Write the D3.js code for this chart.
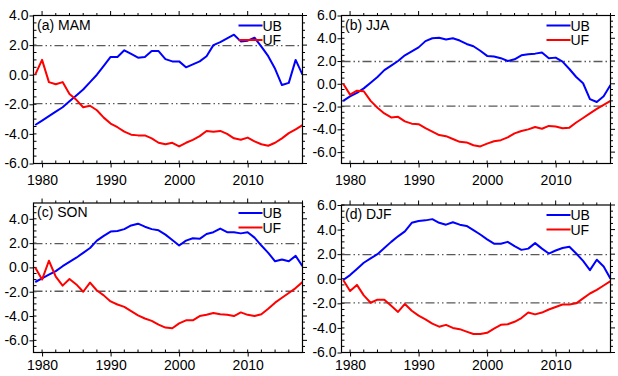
<!DOCTYPE html>
<html>
<head>
<meta charset="utf-8">
<script src="https://cdn.jsdelivr.net/npm/d3@7"></script>
<style>
  body { margin: 0; background: #fff; }
  svg { display: block; font-family: "Liberation Sans", Arial, sans-serif; }
</style>
</head>
<body>
<div id="chart"></div>
<script>
var years = [1979, 1980, 1981, 1982, 1983, 1984, 1985, 1986, 1987, 1988,
             1989, 1990, 1991, 1992, 1993, 1994, 1995, 1996, 1997, 1998,
             1999, 2000, 2001, 2002, 2003, 2004, 2005, 2006, 2007, 2008,
             2009, 2010, 2011, 2012, 2013, 2014, 2015, 2016, 2017, 2018];

var mamUB = [-3.4, -3.1, -2.8, -2.5, -2.2, -1.8, -1.4, -1.0, -0.5, 0.0,
              0.6, 1.2, 1.2, 1.65, 1.4, 1.15, 1.2, 1.6, 1.6, 1.05,
              0.9, 0.9, 0.5, 0.7, 0.9, 1.25, 2.0, 2.2, 2.45, 2.7,
              2.25, 2.3, 2.5, 1.9, 1.25, 0.4, -0.7, -0.55, 1.0, 0.0];
var mamUF = [0.0, 1.0, -0.5, -0.65, -0.5, -1.3, -1.7, -2.2, -2.1, -2.4,
             -2.9, -3.3, -3.55, -3.85, -4.05, -4.1, -4.1, -4.3, -4.6, -4.7,
             -4.6, -4.85, -4.6, -4.4, -4.15, -3.8, -3.85, -3.8, -4.0, -4.3,
             -4.4, -4.25, -4.5, -4.7, -4.8, -4.6, -4.3, -3.95, -3.7, -3.4];

var jjaUB = [-1.5, -1.1, -0.8, -0.4, 0.1, 0.6, 1.2, 1.6, 2.0, 2.5,
              2.85, 3.2, 3.75, 4.0, 4.05, 3.9, 4.0, 3.8, 3.5, 3.3,
              2.9, 2.45, 2.4, 2.25, 2.0, 2.15, 2.5, 2.6, 2.65, 2.75,
              2.25, 2.3, 1.95, 1.3, 0.6, 0.05, -1.35, -1.6, -1.1, -0.1];
var jjaUF = [0.0, -0.95, -0.6, -0.65, -1.5, -2.1, -2.6, -2.95, -2.9, -3.3,
             -3.5, -3.55, -3.9, -4.2, -4.5, -4.6, -4.85, -5.1, -5.15, -5.4,
             -5.5, -5.25, -5.05, -4.95, -4.7, -4.35, -4.15, -4.0, -3.8, -3.95,
             -3.7, -3.75, -3.9, -3.85, -3.4, -3.0, -2.6, -2.2, -1.85, -1.5];

var sonUB = [-1.2, -0.9, -0.6, -0.3, 0.1, 0.45, 0.8, 1.2, 1.6, 2.2,
              2.6, 2.95, 3.0, 3.15, 3.45, 3.6, 3.35, 3.15, 3.05, 2.7,
              2.25, 1.8, 2.2, 2.4, 2.35, 2.75, 2.9, 3.2, 2.9, 2.9,
              2.8, 2.9, 2.45, 1.8, 1.2, 0.5, 0.65, 0.5, 0.95, 0.1];
var sonUF = [0.0, -1.0, 0.55, -0.75, -1.5, -0.95, -1.4, -2.0, -1.25, -1.9,
             -2.3, -2.8, -3.05, -3.25, -3.6, -3.95, -4.2, -4.4, -4.7, -4.95,
             -5.0, -4.6, -4.35, -4.35, -4.0, -3.9, -3.75, -3.85, -3.9, -4.0,
             -3.7, -3.9, -4.0, -3.85, -3.4, -2.9, -2.5, -2.1, -1.7, -1.2];

var djfUB = [-0.1, 0.3, 0.8, 1.3, 1.65, 2.0, 2.5, 3.0, 3.45, 3.85,
              4.55, 4.7, 4.75, 4.85, 4.55, 4.4, 4.6, 4.4, 4.3, 3.95,
              3.6, 3.2, 2.85, 2.85, 3.0, 2.65, 2.35, 2.45, 2.9, 2.45,
              2.05, 2.3, 2.5, 2.6, 2.05, 1.45, 0.7, 1.55, 1.0, 0.0];
var djfUF = [-0.1, -1.0, -0.5, -1.35, -1.95, -1.7, -1.7, -2.2, -2.7, -2.05,
             -2.6, -3.0, -3.3, -3.65, -3.9, -3.75, -4.0, -4.1, -4.3, -4.5,
             -4.5, -4.4, -4.05, -3.75, -3.7, -3.5, -3.2, -2.75, -2.9, -2.75,
             -2.5, -2.3, -2.1, -2.1, -2.0, -1.6, -1.2, -0.9, -0.55, -0.2];

var xTicks = [1980, 1990, 2000, 2010];
var yTicksA = [4, 2, 0, -2, -4, -6];
var yTicksB = [6, 4, 2, 0, -2, -4, -6];
var yTicksC = [4, 2, 0, -2, -4, -6];
var yTicksD = [6, 4, 2, 0, -2, -4, -6];
var seriesNames = ["UB", "UF"];
var seriesColors = ["#0000ff", "#ff0000"];
var threshold = 1.96;

var width = 618, height = 376;

var svg = d3.select("#chart").append("svg")
    .attr("width", width)
    .attr("height", height);

var panels = [
    { label: "(a) MAM", ub: mamUB, uf: mamUF, yDomain: [-6, 4], yTicks: yTicksA,
      left: 33.5, right: 302.5, top: 15.5, bottom: 163.5, xPad: 8 },
    { label: "(b) JJA", ub: jjaUB, uf: jjaUF, yDomain: [-7, 6], yTicks: yTicksB,
      left: 341.5, right: 610.5, top: 15.5, bottom: 163.5, xPad: 8 },
    { label: "(c) SON", ub: sonUB, uf: sonUF, yDomain: [-7, 5.3], yTicks: yTicksC,
      left: 33.5, right: 302.5, top: 203, bottom: 352.5, xPad: 4 },
    { label: "(d) DJF", ub: djfUB, uf: djfUF, yDomain: [-6, 6], yTicks: yTicksD,
      left: 341.5, right: 610.5, top: 205, bottom: 352.5, xPad: 4 }
];

panels.forEach(function(p, pi) {
    var x = d3.scaleLinear().domain([1978.75, 2018]).range([p.left, p.right]);
    var y = d3.scaleLinear().domain(p.yDomain).range([p.bottom, p.top]);

    var g = svg.append("g");

    // clip for the data lines
    g.append("clipPath").attr("id", "clip" + pi)
        .append("rect")
        .attr("x", p.left).attr("y", p.top)
        .attr("width", p.right - p.left).attr("height", p.bottom - p.top);

    // minor ticks
    var minorX = d3.range(1980, 2019, 2);
    var minorY = d3.range(Math.ceil(p.yDomain[0] * 2) / 2, p.yDomain[1] + 0.01, 0.5);

    // bottom axis: major ticks out, minor in
    var bx = d3.axisBottom(x).tickValues(xTicks).tickFormat(d3.format("d"))
        .tickSizeInner(4).tickSizeOuter(0).tickPadding(p.xPad);
    g.append("g").attr("transform", "translate(0," + p.bottom + ")").call(bx)
        .call(function(a) {
            a.select(".domain").remove();
            a.selectAll("text").attr("font-size", 14).attr("fill", "#000")
                .attr("font-family", "Liberation Sans, Arial, sans-serif");
        });
    g.append("g").selectAll("line").data(minorX).enter().append("line")
        .attr("x1", d => x(d)).attr("x2", d => x(d))
        .attr("y1", p.bottom).attr("y2", p.bottom - 3)
        .attr("stroke", "#000").attr("stroke-width", 1);

    // top axis: ticks out
    g.append("g").selectAll("line").data(minorX).enter().append("line")
        .attr("x1", d => x(d)).attr("x2", d => x(d))
        .attr("y1", p.top).attr("y2", d => p.top - (xTicks.indexOf(d) >= 0 ? 4.5 : 2.5))
        .attr("stroke", "#000").attr("stroke-width", 1);

    // left axis
    var ly = d3.axisLeft(y).tickValues(p.yTicks).tickFormat(d3.format(".1f"))
        .tickSizeInner(4).tickSizeOuter(0).tickPadding(1);
    g.append("g").attr("transform", "translate(" + p.left + ",0)").call(ly)
        .call(function(a) {
            a.select(".domain").remove();
            a.selectAll("text").attr("font-size", 14).attr("fill", "#000")
                .attr("font-family", "Liberation Sans, Arial, sans-serif")
                .text(d => d3.format(".1f")(d).replace("\u2212", "-"));
        });
    g.append("g").selectAll("line").data(minorY).enter().append("line")
        .attr("x1", p.left).attr("x2", p.left + 3)
        .attr("y1", d => y(d)).attr("y2", d => y(d))
        .attr("stroke", "#000").attr("stroke-width", 1);

    // right axis: ticks out
    g.append("g").selectAll("line").data(minorY).enter().append("line")
        .attr("x1", p.right).attr("x2", d => p.right + (p.yTicks.indexOf(d) >= 0 ? 4.5 : 2.5))
        .attr("y1", d => y(d)).attr("y2", d => y(d))
        .attr("stroke", "#000").attr("stroke-width", 1);

    // threshold lines
    g.append("g").selectAll("line").data([threshold, -threshold]).enter().append("line")
        .attr("x1", p.left).attr("x2", p.right)
        .attr("y1", d => y(d)).attr("y2", d => y(d))
        .attr("stroke", "#5a5a5a").attr("stroke-width", 1.3)
        .attr("stroke-dasharray", "9,3,1.5,3,1.5,3");

    // data lines
    var line = d3.line().x((d, i) => x(years[i])).y(d => y(d));
    [p.ub, p.uf].forEach(function(s, si) {
        g.append("path")
            .datum(s)
            .attr("clip-path", "url(#clip" + pi + ")")
            .attr("fill", "none")
            .attr("stroke", seriesColors[si])
            .attr("stroke-width", 2)
            .attr("stroke-linejoin", "round")
            .attr("d", line);
    });

    // frame
    g.append("rect")
        .attr("x", p.left).attr("y", p.top)
        .attr("width", p.right - p.left).attr("height", p.bottom - p.top)
        .attr("fill", "none").attr("stroke", "#000").attr("stroke-width", 1.2);

    // panel label
    g.append("text")
        .attr("x", p.left + 3.5).attr("y", p.top + 14)
        .attr("font-size", 14)
        .text(p.label);

    // legend
    var leg = g.append("g");
    seriesNames.forEach(function(name, si) {
        var ly0 = p.top + 10 + si * 14.5;
        leg.append("line")
            .attr("x1", p.right - 64).attr("x2", p.right - 40)
            .attr("y1", ly0).attr("y2", ly0)
            .attr("stroke", seriesColors[si]).attr("stroke-width", 2);
        leg.append("text")
            .attr("x", p.right - 40).attr("y", ly0 + 5)
            .attr("font-size", 14)
            .text(name);
    });
});
</script>
</body>
</html>
